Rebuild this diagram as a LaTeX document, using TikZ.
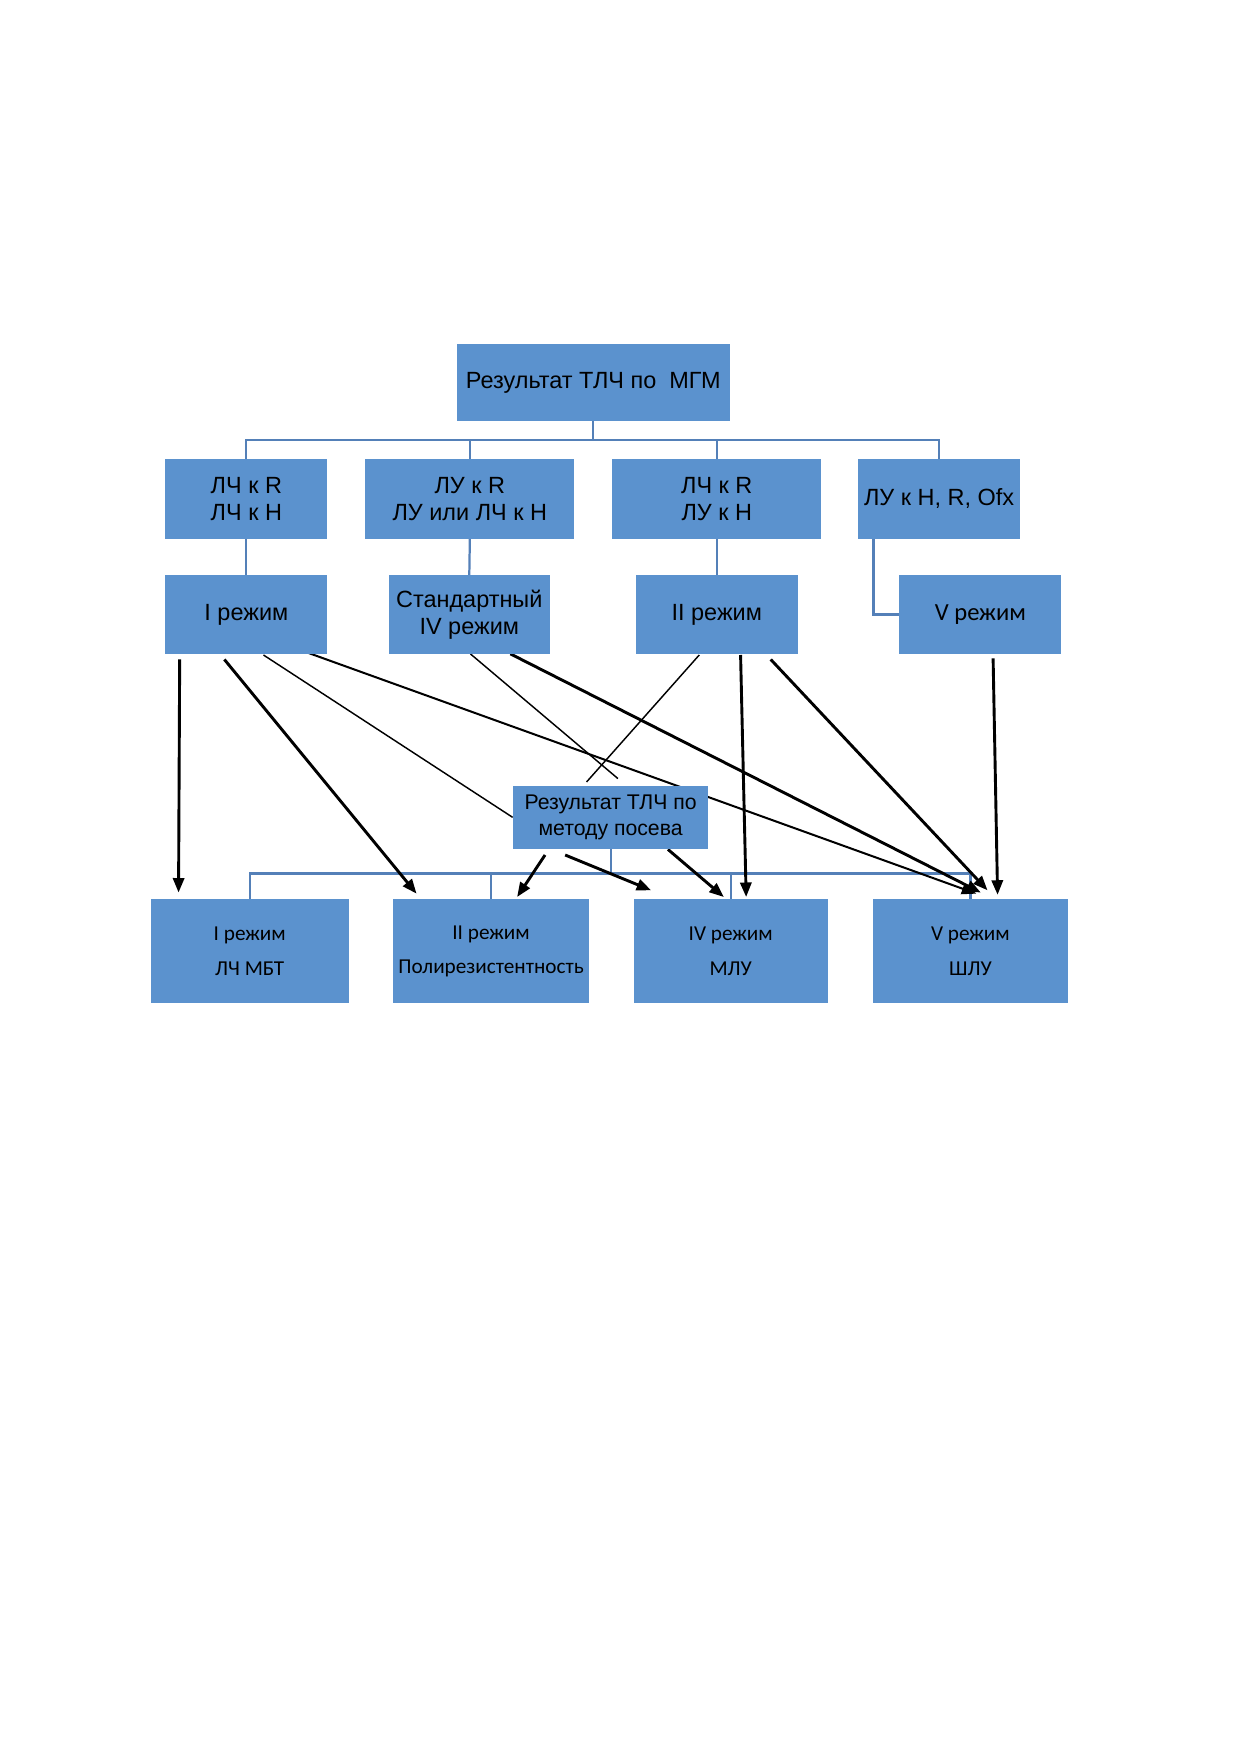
\documentclass[tikz,border=0pt]{standalone}
\usepackage{fontspec}
\setmainfont{Liberation Sans}
\newfontfamily\calfont{Carlito}
\usetikzlibrary{calc,arrows.meta,backgrounds}
\definecolor{boxblue}{RGB}{91,146,206}
\definecolor{lineblue}{RGB}{84,128,184}
\tikzset{
  box/.style={draw=none,fill=boxblue,align=center,inner sep=2pt,font=\fontsize{21}{24}\selectfont},
  lowbox/.style={box,font=\calfont\fontsize{19}{31}\selectfont},
  bline/.style={draw=lineblue,line width=2pt},
  thinl/.style={draw=black,line width=1.3pt},
  thickarr/.style={draw=black,line width=2.6pt,-{Triangle[length=13pt,width=10pt]}},
  medarr/.style={draw=black,line width=1.8pt,-{Triangle[length=13pt,width=10pt]}},
}
\begin{document}
\begin{tikzpicture}[x=1pt,y=-1pt]
\useasboundingbox (0,0) rectangle (1109,1568);
% row 0
\node[box,minimum width=244pt,minimum height=69pt] (top) at (531,342.5) {Результат ТЛЧ по\ \ МГМ};
% row 1
\node[box,minimum width=145pt,minimum height=71pt] (a1) at (220.5,446.5) {ЛЧ к R\\ЛЧ к H};
\node[box,minimum width=187pt,minimum height=71pt] (a2) at (420.5,446.5) {ЛУ к R\\ЛУ или\ ЛЧ к H};
\node[box,minimum width=187pt,minimum height=71pt] (a3) at (641.5,446.5) {ЛЧ к R\\ЛУ к H};
\node[box,minimum width=145pt,minimum height=71pt] (a4) at (840.5,446.5) {ЛУ к H, R, Ofx};
% row 2
\node[box,minimum width=145pt,minimum height=70pt] (b1) at (220.5,550) {I режим};
\node[box,minimum width=144pt,minimum height=70pt] (b2) at (420,550) {Стандартный\\IV режим};
\node[box,minimum width=145pt,minimum height=70pt] (b3) at (641.5,550) {II режим};
\node[box,minimum width=145pt,minimum height=70pt,font=\calfont\fontsize{22}{24}\selectfont] (b4) at (877.5,550) {V режим};
% middle
\node[box,minimum width=175pt,minimum height=57pt,font=\fontsize{19}{23}\selectfont] (m) at (546.5,731.5) {Результат ТЛЧ по\\методу посева};
% bottom row
\node[lowbox,minimum width=177pt,minimum height=93pt] (c1) at (223.5,851.5) {I режим\\ЛЧ МБТ};
\node[lowbox,minimum width=175pt,minimum height=93pt] (c2) at (439.5,851.5) {II режим\\Полирезистентность};
\node[lowbox,minimum width=174pt,minimum height=93pt] (c3) at (654,851.5) {IV режим\\МЛУ};
\node[lowbox,minimum width=175pt,minimum height=93pt] (c4) at (868.5,851.5) {V режим\\ШЛУ};

\begin{scope}[on background layer]
% blue tree connectors
\draw[bline] (top.south) -- ++(0,17);
\draw[bline] (a1.north) -- ++(0,-17) -| (a4.north);
\draw[bline] (a2.north) -- ++(0,-17);
\draw[bline] (a3.north) -- ++(0,-17);
\draw[bline] (a1.south) -- (b1.north);
\draw[bline] (a2.south) -- (b2.north);
\draw[bline] (a3.south) -- (b3.north);
\coordinate (a4d) at ($(a4.south west)+(14,0)$);
\draw[bline] (a4d) |- (b4.west);
% bottom bus
\draw[bline] (m.south) -- ++(0,22);
\draw[bline] (c1.north) -- ++(0,-23) -| (c4.north);
\draw[bline] (c2.north) -- ++(0,-23);
\draw[bline] (c3.north) -- ++(0,-23);
% black connectors
\draw[thickarr] ($(b1.south west)+(13,5)$) -- ($(c1.north west)+(25,-6)$);
\draw[thickarr] ($(b1.south west)+(53,5)$) -- ($(c2.north west)+(21,-5)$);
\draw[thinl] ($(b1.south west)+(88,1)$) -- (m.west);
\draw[medarr] ($(b1.south west)+(125,-2)$) -- ($(c4.north west)+(93,-5)$);
\draw[thinl] ($(b2.south)+(1,0)$) -- ($(m.north)+(6.5,-6)$);
\draw[thickarr] ($(b2.south west)+(109,0)$) -- ($(c4.north west)+(97,-6)$);
\draw[thinl] ($(b3.south west)+(57,1)$) -- ($(m.north)+(-21.5,-3)$);
\draw[thickarr] ($(b3.south west)+(94,1)$) -- ($(c3.north west)+(101,-2)$);
\draw[thickarr] ($(b3.south west)+(121,5)$) -- ($(c4.north west)+(103,-8)$);
\draw[thickarr] ($(b4.south west)+(84,4)$) -- ($(c4.north west)+(112,-4)$);
\draw[thickarr] ($(m.south west)+(29,5)$) -- ($(c2.north west)+(111,-2)$);
\draw[thickarr] ($(m.south west)+(47,5)$) -- ($(c3.north west)+(16,-8)$);
\draw[thickarr] ($(m.south west)+(139,0)$) -- ($(c3.north west)+(81,-2)$);
\end{scope}
\end{tikzpicture}
\end{document}
